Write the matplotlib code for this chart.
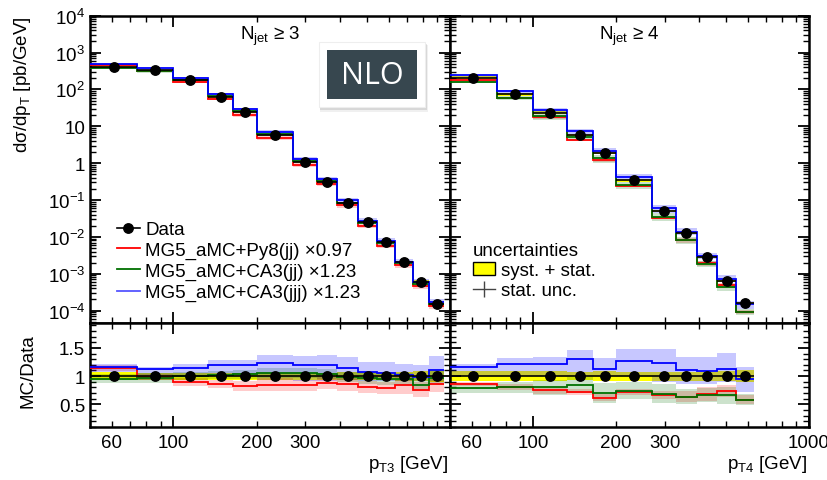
import numpy as np
import matplotlib.pyplot as plt
from matplotlib.lines import Line2D
from matplotlib.patches import Patch, Rectangle
from matplotlib.ticker import (LogLocator, FuncFormatter, MultipleLocator, NullFormatter,
                               FixedLocator, FixedFormatter)

plt.rcParams['font.family'] = ['Liberation Sans', 'DejaVu Sans']
plt.rcParams['mathtext.fontset'] = 'custom'
plt.rcParams['mathtext.rm'] = 'Liberation Sans'
plt.rcParams['mathtext.it'] = 'Liberation Sans:italic'
plt.rcParams['mathtext.sf'] = 'Liberation Sans'

# pT bin edges [GeV], both multiplicities use the same binning
edges = [50, 74, 100, 133, 165, 200, 270, 330, 392, 465, 545, 632, 735, 840, 955]

# ---- Njet >= 3 ----
data3 = [411, 327, 178, 64, 24.6, 5.7, 1.08, 0.308, 0.0845, 0.0252, 0.00722, 0.00207, 0.000614, 0.000152]
stat3 = [0.005, 0.005, 0.005, 0.005, 0.005, 0.005, 0.006, 0.008, 0.01, 0.012, 0.015, 0.02, 0.03, 0.06]
syst3 = [0.07, 0.06, 0.06, 0.06, 0.06, 0.06, 0.06, 0.06, 0.07, 0.07, 0.07, 0.08, 0.09, 0.1]
py8_3 = [1.14, 0.98, 0.89, 0.865, 0.82, 0.85, 0.835, 0.876, 0.853, 0.806, 0.794, 0.835, 0.76, 0.86]
py8_3_err = [0.05, 0.05, 0.07, 0.07, 0.09, 0.11, 0.10, 0.11, 0.12, 0.10, 0.11, 0.15, 0.13, 0.14]
jj_3 = [0.95, 0.96, 1.01, 1.02, 1.03, 1.05, 1.05, 1.04, 0.98, 0.965, 0.95, 0.95, 0.85, 0.965]
jj_3_err = [0.08, 0.09, 0.07, 0.07, 0.08, 0.09, 0.09, 0.09, 0.09, 0.10, 0.10, 0.10, 0.12, 0.13]
jjj_3 = [1.17, 1.13, 1.15, 1.20, 1.20, 1.235, 1.19, 1.20, 1.147, 1.07, 1.06, 1.02, 0.98, 1.11]
jjj_3_up = [0.05, 0.04, 0.06, 0.08, 0.08, 0.14, 0.16, 0.17, 0.19, 0.18, 0.19, 0.2, 0.22, 0.25]
jjj_3_dn = [0.09, 0.2, 0.15, 0.2, 0.2, 0.3, 0.27, 0.28, 0.22, 0.15, 0.14, 0.1, 0.07, 0.2]

# ---- Njet >= 4 ----
data4 = [207, 74, 23.1, 5.9, 1.93, 0.341, 0.0502, 0.0127, 0.00282, 0.000653, 0.000158]
stat4 = [0.005, 0.005, 0.005, 0.007, 0.01, 0.01, 0.015, 0.02, 0.03, 0.05, 0.07]
syst4 = [0.09, 0.09, 0.09, 0.07, 0.09, 0.08, 0.08, 0.08, 0.08, 0.09, 0.1]
py8_4 = [0.86, 0.81, 0.75, 0.72, 0.62, 0.72, 0.66, 0.635, 0.68, 0.735, 0.585]
py8_4_err = [0.04, 0.05, 0.06, 0.06, 0.06, 0.05, 0.07, 0.1, 0.12, 0.1, 0.08]
jj_4 = [0.79, 0.80, 0.80, 0.85, 0.70, 0.74, 0.69, 0.635, 0.67, 0.665, 0.585]
jj_4_err = [0.09, 0.1, 0.14, 0.14, 0.17, 0.15, 0.17, 0.13, 0.12, 0.15, 0.1]
jjj_4 = [1.165, 1.21, 1.22, 1.30, 1.135, 1.265, 1.235, 1.10, 1.09, 1.135, 0.95]
jjj_4_up = [0.055, 0.11, 0.12, 0.165, 0.185, 0.22, 0.25, 0.23, 0.24, 0.28, 0.21]
jjj_4_dn = [0.165, 0.21, 0.22, 0.30, 0.135, 0.265, 0.33, 0.235, 0.225, 0.245, 0.23]

labels = ['Data', 'MG5_aMC+Py8(jj) ×0.97', 'MG5_aMC+CA3(jj) ×1.23', 'MG5_aMC+CA3(jjj) ×1.23']
RED, GREEN, BLUE = '#ff0000', '#007000', '#0000ff'
YELLOW = '#ffff00'


def draw(axm, axr, data, stat, syst, mcs):
    d = np.array(data)
    n = len(d)
    e = np.array(edges[:n + 1], dtype=float)
    cen = np.sqrt(e[:-1] * e[1:])
    xerr = [cen - e[:-1], e[1:] - cen]
    syst = np.array(syst)
    stat = np.array(stat)

    axm.stairs(d * (1 + syst), e, baseline=d * (1 - syst), fill=True, color=YELLOW, lw=0, zorder=1)
    axr.stairs(1 + syst, e, baseline=1 - syst, fill=True, color=YELLOW, lw=0, zorder=1)
    for r, up, dn, col, a in mcs:
        r, up, dn = np.array(r), np.array(up), np.array(dn)
        axm.stairs(d * (r + up), e, baseline=d * (r - dn), fill=True, color=col, alpha=a, lw=0, zorder=2)
        axr.stairs(r + up, e, baseline=r - dn, fill=True, color=col, alpha=a, lw=0, zorder=2)
    for r, up, dn, col, a in mcs:
        r = np.array(r)
        axm.stairs(d * r, e, baseline=None, color=col, lw=1.3, zorder=3)
        axr.stairs(r, e, baseline=None, color=col, lw=1.3, zorder=3)

    axm.errorbar(cen, d, xerr=xerr, yerr=d * stat, fmt='o', color='k', ms=6.8, lw=1.2, zorder=5)
    axr.errorbar(cen, np.ones(n), xerr=xerr, yerr=stat, fmt='o', color='k', ms=6.8, lw=1.2, zorder=5)


def ylog_fmt(v, pos):
    ex = int(round(np.log10(v)))
    if ex == 0:
        return '1'
    if ex == 1:
        return '10'
    return r'$10^{%d}$' % ex


def style(ax):
    ax.set_xscale('log')
    ax.set_xlim(50, 1000)
    ax.xaxis.set_major_locator(LogLocator(base=10))
    ax.xaxis.set_minor_locator(LogLocator(base=10, subs=np.arange(2, 10), numticks=20))
    ax.tick_params(which='both', direction='in', top=True, right=True, labelsize=13.5)
    ax.tick_params(which='major', length=8, width=1.3)
    ax.tick_params(which='minor', length=4.5, width=1.0)
    for s in ax.spines.values():
        s.set_linewidth(1.8)


fig = plt.figure(figsize=(8.27, 4.81), dpi=100)
W, H = 827.0, 481.0
axm3 = fig.add_axes([90 / W, 1 - 324 / H, 360 / W, 307.3 / H])
axm4 = fig.add_axes([450 / W, 1 - 324 / H, 359 / W, 307.3 / H])
axr3 = fig.add_axes([90 / W, 1 - 428 / H, 360 / W, 104 / H])
axr4 = fig.add_axes([450 / W, 1 - 428 / H, 359 / W, 104 / H])

draw(axm3, axr3, data3, stat3, syst3,
     [(py8_3, py8_3_err, py8_3_err, RED, 0.2),
      (jj_3, jj_3_err, jj_3_err, GREEN, 0.2),
      (jjj_3, jjj_3_up, jjj_3_dn, BLUE, 0.22)])
draw(axm4, axr4, data4, stat4, syst4,
     [(py8_4, py8_4_err, py8_4_err, RED, 0.2),
      (jj_4, jj_4_err, jj_4_err, GREEN, 0.2),
      (jjj_4, jjj_4_up, jjj_4_dn, BLUE, 0.22)])

for ax in (axm3, axm4, axr3, axr4):
    style(ax)

for ax in (axm3, axm4):
    ax.set_yscale('log')
    ax.set_ylim(4.6e-5, 1e4)
    ax.yaxis.set_major_locator(LogLocator(base=10, numticks=20))
    ax.yaxis.set_minor_locator(LogLocator(base=10, subs=np.arange(2, 10), numticks=60))
    ax.yaxis.set_minor_formatter(NullFormatter())
    ax.tick_params(labelbottom=False)
axm3.yaxis.set_major_formatter(FuncFormatter(ylog_fmt))
axm4.tick_params(labelleft=False)

for ax in (axr3, axr4):
    ax.set_ylim(0.1, 1.94)
    ax.yaxis.set_major_locator(FixedLocator([0.5, 1.0, 1.5]))
    ax.yaxis.set_major_formatter(FixedFormatter(['0.5', '1', '1.5']))
    ax.yaxis.set_minor_locator(MultipleLocator(0.1))
axr4.tick_params(labelleft=False)

shown_minor = (60, 200, 300)
minor_fmt = FuncFormatter(lambda v, p: '%d' % round(v) if int(round(v)) in shown_minor else '')
axr3.xaxis.set_minor_formatter(minor_fmt)
axr4.xaxis.set_minor_formatter(minor_fmt)
axr3.xaxis.set_major_formatter(FuncFormatter(lambda v, p: '100' if round(v) == 100 else ''))
axr4.xaxis.set_major_formatter(FuncFormatter(lambda v, p: '%d' % round(v) if round(v) in (100, 1000) else ''))
for ax in (axr3, axr4):
    ax.tick_params(axis='x', which='both', pad=5)

# axis labels
axm3.set_ylabel(r'dσ/dp$_{\rm T}$ [pb/GeV]', fontsize=13.5, loc='top')
axm3.yaxis.set_label_coords(-0.158, 1.0)
axr3.set_ylabel('MC/Data', fontsize=13.5)
axr3.yaxis.set_label_coords(-0.15, 0.55)
axr3.set_xlabel(r'p$_{\rm T3}$ [GeV]', fontsize=13.5, loc='right')
axr3.xaxis.set_label_coords(0.995, -0.25)
axr4.set_xlabel(r'p$_{\rm T4}$ [GeV]', fontsize=13.5, loc='right')
axr4.xaxis.set_label_coords(0.995, -0.25)

axm3.text(0.5, 1 - 20 / 307.3, r'N$_{\rm jet}$ ≥ 3', transform=axm3.transAxes,
          ha='center', va='center', fontsize=13.5)
axm4.text(0.5, 1 - 20 / 307.3, r'N$_{\rm jet}$ ≥ 4', transform=axm4.transAxes,
          ha='center', va='center', fontsize=13.5)

# legends
h_data = Line2D([], [], color='k', marker='o', ms=6.8, lw=1.2)
h_mc = [Line2D([], [], color=c, lw=1.3) for c in (RED, GREEN, '#5555ff')]
axm3.legend([h_data] + h_mc, labels, loc='upper left', bbox_to_anchor=(0.075, 0.332),
            frameon=False, fontsize=13.5, handlelength=1.2, handletextpad=0.3,
            labelspacing=0.2, borderpad=0, borderaxespad=0)

h_syst = Patch(facecolor=YELLOW, edgecolor='k', lw=1)
h_stat = Line2D([], [], color='#444444', marker='|', ms=11, mew=1, lw=1)
axm4.legend([h_syst, h_stat], ['syst. + stat.', 'stat. unc.'], title='uncertainties',
            title_fontsize=13.5, alignment='left', loc='upper left',
            bbox_to_anchor=(0.064, 0.262), frameon=False, fontsize=13.5,
            handlelength=1.2, handletextpad=0.3, labelspacing=0.15,
            borderpad=0, borderaxespad=0)


# NLO badge
def frect(x0, y0, x1, y1, **kw):
    fig.add_artist(Rectangle((x0 / W, 1 - y1 / H), (x1 - x0) / W, (y1 - y0) / H,
                             transform=fig.transFigure, **kw))


frect(320, 46, 428, 113, facecolor='#000000', alpha=0.06, lw=0, zorder=10)
frect(320, 45, 427, 111, facecolor='#000000', alpha=0.10, lw=0, zorder=10)
frect(319, 43, 425, 108, facecolor='white', edgecolor='#eeeeee', lw=0.8, zorder=11)
frect(327, 51, 417, 100, facecolor='#37474f', lw=0, zorder=12)
fig.text(372 / W, 1 - 76 / H, 'NLO', color='white', fontsize=22, family=['Open Sans', 'DejaVu Sans'],
         ha='center', va='center', zorder=13)

fig.savefig('out.png', dpi=100)
